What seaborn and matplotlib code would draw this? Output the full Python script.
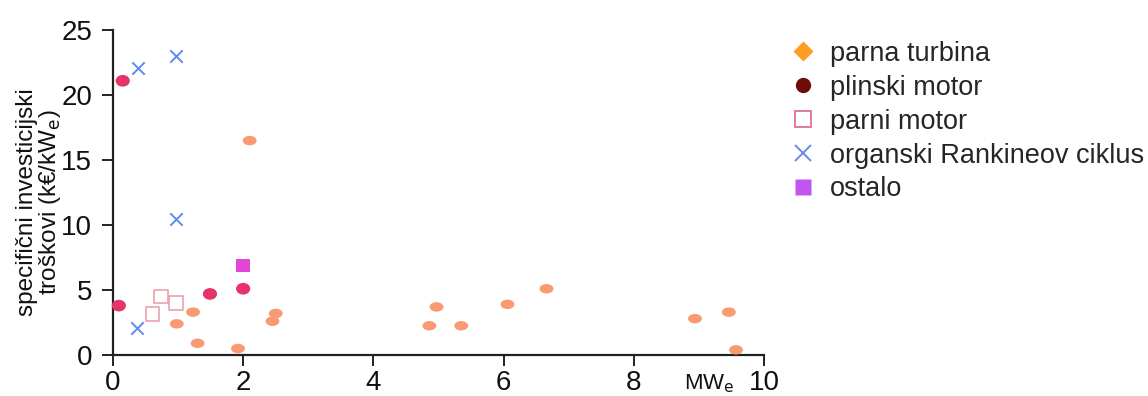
import matplotlib
matplotlib.use("Agg")
import matplotlib.pyplot as plt
from matplotlib.path import Path
from matplotlib.lines import Line2D
import numpy as np
import pandas as pd
import seaborn as sns

sns.set_style("white")
plt.rcParams["font.family"] = ["Liberation Sans", "DejaVu Sans"]

# Installed capacity (MWe) and specific investment cost (k€/kWe) per technology
turbina_x = [2.1, 0.98, 1.23, 1.3, 1.92, 2.45, 2.5, 4.86, 4.97, 5.35, 6.06, 6.66, 8.94, 9.46, 9.57]
turbina_y = [16.5, 2.4, 3.3, 0.9, 0.5, 2.6, 3.2, 2.25, 3.7, 2.25, 3.9, 5.1, 2.8, 3.3, 0.4]
plinski_x = [0.15, 0.09, 1.49, 2.0]
plinski_y = [21.1, 3.8, 4.7, 5.1]
parni_x = [0.61, 0.74, 0.97]
parni_y = [3.15, 4.5, 4.0]
orc_x = [0.38, 0.97, 0.97, 0.37]
orc_y = [22.1, 23.0, 10.5, 2.1]
ostalo_x = [2.0]
ostalo_y = [6.9]

labels = ["parna turbina", "plinski motor", "parni motor",
          "organski Rankineov ciklus", "ostalo"]
xticks = [0, 2, 4, 6, 8, 10]
yticks = [0, 5, 10, 15, 20, 25]

df = pd.DataFrame({
    "snaga": turbina_x + plinski_x + parni_x + orc_x + ostalo_x,
    "trosak": turbina_y + plinski_y + parni_y + orc_y + ostalo_y,
    "tehnologija": ([labels[0]] * len(turbina_x) + [labels[1]] * len(plinski_x)
                    + [labels[2]] * len(parni_x) + [labels[3]] * len(orc_x)
                    + [labels[4]] * len(ostalo_x)),
})

# flattened ellipses used for the filled round markers
circ = Path.unit_circle()
ellipse = Path(circ.vertices * np.array([1.0, 0.68]), circ.codes)
ellipse2 = Path(circ.vertices * np.array([1.0, 0.82]), circ.codes)

fig = plt.figure(figsize=(11.48, 3.96), dpi=100)
ax = fig.add_axes([0.0984, 0.1035, 0.5671, 0.8205])

style = {
    labels[0]: dict(marker=ellipse, s=100, color="#f99a72", edgecolor="none"),
    labels[1]: dict(marker=ellipse2, s=105, color="#e63468", edgecolor="none"),
    labels[2]: dict(marker="s", s=95, facecolor="none", edgecolor="#eea0ae", linewidth=1.2),
    labels[3]: dict(marker="x", s=80, color="#5b8cf0", linewidth=1.4),
    labels[4]: dict(marker="s", s=95, color="#e446d8", edgecolor="none"),
}
for lab in labels:
    sub = df[df["tehnologija"] == lab]
    sns.scatterplot(data=sub, x="snaga", y="trosak", ax=ax, legend=False,
                    clip_on=False, zorder=3, **style[lab])

ax.set_xlim(0, 10)
ax.set_ylim(0, 25)
ax.set_xticks(xticks)
ax.set_yticks(yticks)
ax.set_xticklabels([str(t) for t in xticks])
ax.set_yticklabels([str(t) for t in yticks])
sns.despine(ax=ax)
for sp in ("left", "bottom"):
    ax.spines[sp].set_linewidth(1.6)
    ax.spines[sp].set_color("#222222")
ax.tick_params(axis="both", bottom=True, left=True, direction="out", length=8,
               width=1.4, color="#222222", labelsize=20, labelcolor="#111111")
ax.tick_params(axis="x", pad=3)
ax.tick_params(axis="y", pad=7)
ax.set_xlabel("")
ax.set_ylabel("specifični investicijski\ntroškovi (k€/kW$_\\mathrm{e}$)",
              fontsize=17.5, color="#111111", linespacing=0.95)
ax.yaxis.set_label_coords(-0.076, 0.47)
ax.text(9.55, -1.3, "MW$_\\mathrm{e}$", fontsize=16, ha="right", va="top",
        color="#111111", transform=ax.transData)

# legend with its own marker colours
handles = [
    Line2D([], [], linestyle="none", marker="D", markersize=10, color="#ff9a22", markeredgecolor="none"),
    Line2D([], [], linestyle="none", marker="o", markersize=11, color="#6e0b0b", markeredgecolor="none"),
    Line2D([], [], linestyle="none", marker="s", markersize=12, markerfacecolor="none",
           markeredgecolor="#e47a98", markeredgewidth=1.4),
    Line2D([], [], linestyle="none", marker="x", markersize=12, color="#6a88f0", markeredgewidth=1.4),
    Line2D([], [], linestyle="none", marker="s", markersize=12, color="#c055f2", markeredgecolor="none"),
]
fig.legend(handles, labels, loc="upper left", bbox_to_anchor=(0.678, 0.925),
           frameon=False, fontsize=19.5, handlelength=1.0, handletextpad=0.5,
           labelspacing=0.295, borderaxespad=0)

fig.savefig("out.png", dpi=100)
